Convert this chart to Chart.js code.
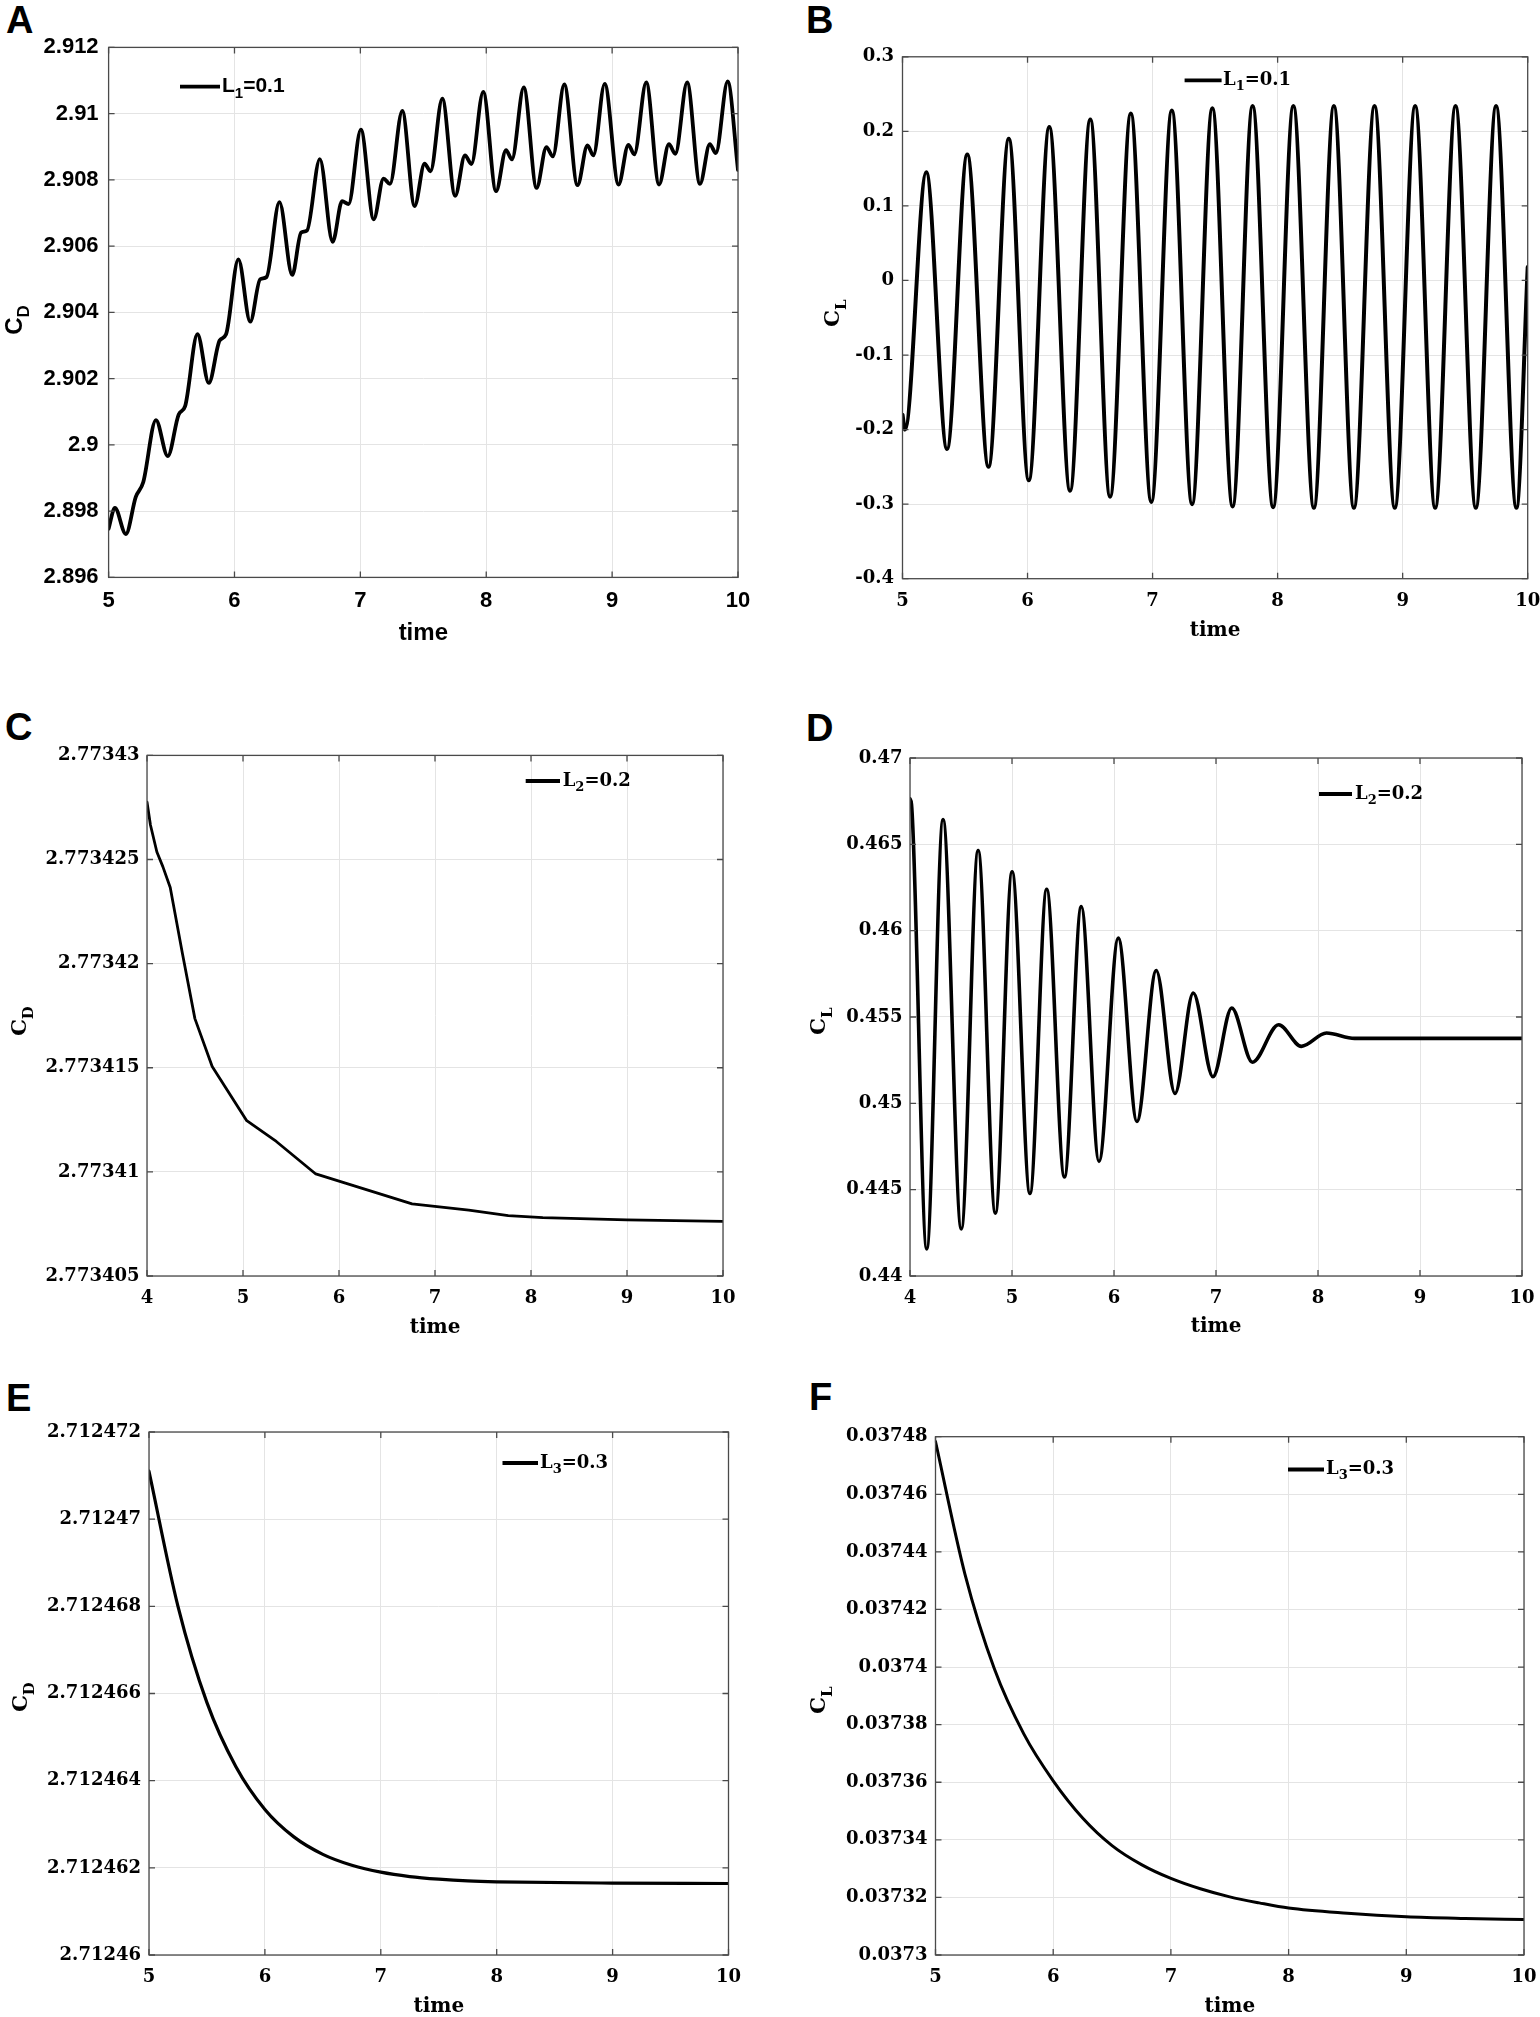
<!DOCTYPE html>
<html>
<head>
<meta charset="utf-8">
<script src="https://cdn.jsdelivr.net/npm/chart.js@4.4.1/dist/chart.umd.min.js"></script>
<style>
    body { margin: 0; background: #fff; }
    #page { position: relative; width: 1540px; height: 2017px; background: #fff; overflow: hidden; }
    #page canvas { position: absolute; }
    .tag { position: absolute; font: bold 38px 'Liberation Sans', Arial, sans-serif; line-height: 1; color: #000; }
</style>
</head>
<body>
<div id="page">
    <div class="tag" style="left:6px;top:1px">A</div>
    <div class="tag" style="left:806px;top:1px">B</div>
    <div class="tag" style="left:5px;top:708px">C</div>
    <div class="tag" style="left:806px;top:709px">D</div>
    <div class="tag" style="left:6px;top:1379px">E</div>
    <div class="tag" style="left:809px;top:1378px">F</div>
</div>
<script>
// ---- values ----
const xTicks5 = [5, 6, 7, 8, 9, 10];
const xTickLabels5 = ['5', '6', '7', '8', '9', '10'];
const xTicks4 = [4, 5, 6, 7, 8, 9, 10];
const xTickLabels4 = ['4', '5', '6', '7', '8', '9', '10'];

// A: drag coefficient, L1 = 0.1
const timeA = [5, 5.05, 5.137, 5.216, 5.275, 5.376, 5.47, 5.557, 5.608, 5.706, 5.796, 5.882, 5.933,
    6.031, 6.125, 6.204, 6.255, 6.357, 6.459, 6.529, 6.576, 6.678, 6.78, 6.855, 6.906,
    7.004, 7.106, 7.184, 7.235, 7.333, 7.431, 7.51, 7.557, 7.651, 7.753, 7.831, 7.882,
    7.976, 8.078, 8.157, 8.204, 8.298, 8.4, 8.478, 8.529, 8.62, 8.725, 8.804, 8.851,
    8.941, 9.051, 9.129, 9.176, 9.271, 9.373, 9.451, 9.502, 9.596, 9.698, 9.776, 9.824, 9.918, 10];
const cdA = [2.89747, 2.8981, 2.89731, 2.89843, 2.89887, 2.90075, 2.89966, 2.90092, 2.90117, 2.90334, 2.90187, 2.90315, 2.90334,
    2.9056, 2.90372, 2.905, 2.90507, 2.90733, 2.90513, 2.90641, 2.90647, 2.90863, 2.90613, 2.90736, 2.90727,
    2.90952, 2.90681, 2.90804, 2.90788, 2.91008, 2.90721, 2.90849, 2.90826, 2.91045, 2.90752, 2.90874, 2.90848,
    2.91066, 2.90766, 2.9089, 2.90862, 2.91079, 2.90776, 2.90899, 2.90871, 2.91088, 2.90784, 2.90904, 2.90874,
    2.9109, 2.90786, 2.90906, 2.90877, 2.91094, 2.90786, 2.90908, 2.90879, 2.91094, 2.90788, 2.90908, 2.90881, 2.91097, 2.9083];
const yTicksA = [2.896, 2.898, 2.9, 2.902, 2.904, 2.906, 2.908, 2.91, 2.912];
const yTickLabelsA = ['2.896', '2.898', '2.9', '2.902', '2.904', '2.906', '2.908', '2.91', '2.912'];

// B: lift coefficient, L1 = 0.1
const timeB = [5, 5.02, 5.19, 5.356, 5.518, 5.688, 5.85, 6.01, 6.174, 6.34, 6.502, 6.66, 6.826, 6.99,
    7.154, 7.316, 7.478, 7.64, 7.8, 7.964, 8.126, 8.29, 8.45, 8.61, 8.775, 8.937,
    9.1, 9.26, 9.423, 9.585, 9.747, 9.91, 10];
const clB = [-0.18, -0.2, 0.145, -0.226, 0.169, -0.25, 0.19, -0.268, 0.206, -0.282, 0.216, -0.29, 0.224, -0.297,
    0.228, -0.3, 0.231, -0.303, 0.234, -0.304, 0.234, -0.305, 0.234, -0.305, 0.234, -0.305,
    0.234, -0.305, 0.234, -0.305, 0.234, -0.305, 0.018];
const yTicksB = [-0.4, -0.3, -0.2, -0.1, 0, 0.1, 0.2, 0.3];
const yTickLabelsB = ['-0.4', '-0.3', '-0.2', '-0.1', '0', '0.1', '0.2', '0.3'];

// C: drag coefficient, L2 = 0.2
const timeC = [4, 4.036, 4.103, 4.165, 4.242, 4.37, 4.499, 4.679, 5.039, 5.347, 5.758, 6.067, 6.761, 7.352, 7.763, 8.123, 8.997, 10];
const cdC = [2.77342776, 2.77342666, 2.77342536, 2.77342466, 2.77342366, 2.77342046, 2.77341736, 2.77341506, 2.77341246,
    2.77341146, 2.7734099, 2.77340946, 2.77340846, 2.77340816, 2.7734079, 2.7734078, 2.7734077, 2.77340762];
const yTicksC = [2.773405, 2.77341, 2.773415, 2.77342, 2.773425, 2.77343];
const yTickLabelsC = ['2.773405', '2.77341', '2.773415', '2.77342', '2.773425', '2.77343'];

// D: lift coefficient, L2 = 0.2
const timeD = [4, 4.015, 4.164, 4.324, 4.503, 4.668, 4.837, 5.001, 5.176, 5.34, 5.514, 5.679, 5.853,
    6.042, 6.225, 6.414, 6.598, 6.777, 6.97, 7.154, 7.357, 7.614, 7.837, 8.083, 8.359, 9, 10];
const clD = [0.46763, 0.4673, 0.44157, 0.46643, 0.44273, 0.46464, 0.44364, 0.46341, 0.44478, 0.4624, 0.44574, 0.46139, 0.44664,
    0.45957, 0.44895, 0.45769, 0.45057, 0.45639, 0.45154, 0.45552, 0.45238, 0.45455, 0.4533, 0.45407, 0.45376, 0.45376, 0.45376];
const yTicksD = [0.44, 0.445, 0.45, 0.455, 0.46, 0.465, 0.47];
const yTickLabelsD = ['0.44', '0.445', '0.45', '0.455', '0.46', '0.465', '0.47'];

// E: drag coefficient, L3 = 0.3
const timeE = [5, 5.25, 5.5, 5.75, 6.0, 6.25, 6.5, 6.75, 7.0, 7.25, 7.5, 7.75, 8.0, 9.0, 10];
const cdE = [2.7124711, 2.712468, 2.71246579, 2.71246432, 2.71246334, 2.71246271, 2.71246231, 2.71246206,
    2.7124619, 2.7124618, 2.71246174, 2.7124617, 2.71246168, 2.71246165, 2.71246164];
const yTicksE = [2.71246, 2.712462, 2.712464, 2.712466, 2.712468, 2.71247, 2.712472];
const yTickLabelsE = ['2.71246', '2.712462', '2.712464', '2.712466', '2.712468', '2.71247', '2.712472'];

// F: lift coefficient, L3 = 0.3
const timeF = [5, 5.25, 5.5, 5.75, 6.0, 6.25, 6.5, 6.75, 7.0, 7.25, 7.5, 7.75, 8.0, 8.5, 9.0, 9.5, 10];
const clF = [0.0374783, 0.0374323, 0.0373994, 0.0373768, 0.0373605, 0.0373476, 0.037338, 0.0373314, 0.0373266,
    0.037323, 0.0373202, 0.0373181, 0.0373163, 0.0373145, 0.0373133, 0.0373127, 0.0373123];
const yTicksF = [0.0373, 0.03732, 0.03734, 0.03736, 0.03738, 0.0374, 0.03742, 0.03744, 0.03746, 0.03748];
const yTickLabelsF = ['0.0373', '0.03732', '0.03734', '0.03736', '0.03738', '0.0374', '0.03742', '0.03744', '0.03746', '0.03748'];

// legend text: base, subscript, rest
const legendL1 = ['L', '1', '=0.1'];
const legendL2 = ['L', '2', '=0.2'];
const legendL3 = ['L', '3', '=0.3'];
const xTitle = 'time';
const yTitleCD = ['C', 'D'];
const yTitleCL = ['C', 'L'];

// ---- styling ----
const SANS = "'Liberation Sans', Arial, sans-serif";
const SERIF = "'DejaVu Serif', serif";
const GRID = '#e4e4e4';
const AXIS = '#4a4a4a';
const TICK_LEN = 6;

const serifFonts = { family: SERIF, tick: 18, title: 20, yTitle: 21, ySub: 15, legend: 18, legendSub: 13 };
const sansFonts = { family: SANS, tick: 22, title: 24, yTitle: 24, ySub: 17, legend: 21, legendSub: 15 };

const panels = [
    { box: { x: 0, y: 0, w: 770, h: 690 }, plot: { left: 108.6, top: 47.4, right: 738, bottom: 577.4 },
      fonts: sansFonts, xPad: 10, yPad: 10, lineWidth: 3.8, smooth: true,
      x: timeA, y: cdA, xTicks: xTicks5, xLabels: xTickLabels5, yTicks: yTicksA, yLabels: yTickLabelsA,
      xTitleY: 633, yTitle: yTitleCD, yTitlePos: { x: 17, y: 320 },
      legend: legendL1, legendPos: { x1: 180, x2: 220, y: 86.7, tx: 222 } },
    { box: { x: 770, y: 0, w: 770, h: 690 }, plot: { left: 902.5, top: 56.8, right: 1527.7, bottom: 578.7 },
      fonts: serifFonts, xPad: 12, yPad: 8.5, lineWidth: 4, smooth: true,
      x: timeB, y: clB, xTicks: xTicks5, xLabels: xTickLabels5, yTicks: yTicksB, yLabels: yTickLabelsB,
      xTitleY: 631, yTitle: yTitleCL, yTitlePos: { x: 835, y: 313 },
      legend: legendL1, legendPos: { x1: 1184.6, x2: 1221.6, y: 80.4, tx: 1223 } },
    { box: { x: 0, y: 690, w: 770, h: 670 }, plot: { left: 147, top: 755.4, right: 723, bottom: 1276 },
      fonts: serifFonts, xPad: 12, yPad: 7.5, lineWidth: 2.8, smooth: false,
      x: timeC, y: cdC, xTicks: xTicks4, xLabels: xTickLabels4, yTicks: yTicksC, yLabels: yTickLabelsC,
      xTitleY: 1328, yTitle: yTitleCD, yTitlePos: { x: 22, y: 1021 },
      legend: legendL2, legendPos: { x1: 525.7, x2: 560, y: 781, tx: 562.7 } },
    { box: { x: 770, y: 690, w: 770, h: 670 }, plot: { left: 910, top: 758, right: 1522, bottom: 1276 },
      fonts: serifFonts, xPad: 12, yPad: 7.5, lineWidth: 3.6, smooth: true,
      x: timeD, y: clD, xTicks: xTicks4, xLabels: xTickLabels4, yTicks: yTicksD, yLabels: yTickLabelsD,
      xTitleY: 1327, yTitle: yTitleCL, yTitlePos: { x: 821, y: 1021 },
      legend: legendL2, legendPos: { x1: 1319, x2: 1352, y: 794, tx: 1355 } },
    { box: { x: 0, y: 1360, w: 770, h: 657 }, plot: { left: 149, top: 1432, right: 728.5, bottom: 1955 },
      fonts: serifFonts, xPad: 12, yPad: 8, lineWidth: 3.2, smooth: true,
      x: timeE, y: cdE, xTicks: xTicks5, xLabels: xTickLabels5, yTicks: yTicksE, yLabels: yTickLabelsE,
      xTitleY: 2006.7, yTitle: yTitleCD, yTitlePos: { x: 23, y: 1697 },
      legend: legendL3, legendPos: { x1: 502.5, x2: 538, y: 1463, tx: 540 } },
    { box: { x: 770, y: 1360, w: 770, h: 657 }, plot: { left: 935.5, top: 1436.7, right: 1524, bottom: 1955 },
      fonts: serifFonts, xPad: 12, yPad: 8, lineWidth: 3, smooth: true,
      x: timeF, y: clF, xTicks: xTicks5, xLabels: xTickLabels5, yTicks: yTicksF, yLabels: yTickLabelsF,
      xTitleY: 2007, yTitle: yTitleCL, yTitlePos: { x: 821, y: 1700 },
      legend: legendL3, legendPos: { x1: 1288, x2: 1324, y: 1469.5, tx: 1326 } }
];

// Draws the MATLAB-like box, inward ticks, axis titles and the in-plot legend
function framePlugin(p) {
    return {
        id: 'frame',
        afterDraw(chart) {
            const { ctx, chartArea: a } = chart;
            const xs = chart.scales.x, ys = chart.scales.y;
            const f = p.fonts;
            const ox = p.box.x, oy = p.box.y;
            ctx.save();

            // inward tick marks and box
            ctx.strokeStyle = AXIS;
            ctx.lineWidth = 1.3;
            ctx.beginPath();
            p.xTicks.forEach(v => {
                const px = xs.getPixelForValue(v);
                ctx.moveTo(px, a.bottom); ctx.lineTo(px, a.bottom - TICK_LEN);
                ctx.moveTo(px, a.top); ctx.lineTo(px, a.top + TICK_LEN);
            });
            p.yTicks.forEach(v => {
                const py = ys.getPixelForValue(v);
                ctx.moveTo(a.left, py); ctx.lineTo(a.left + TICK_LEN, py);
                ctx.moveTo(a.right, py); ctx.lineTo(a.right - TICK_LEN, py);
            });
            ctx.stroke();
            ctx.strokeRect(a.left, a.top, a.right - a.left, a.bottom - a.top);

            ctx.fillStyle = '#000';

            // x title
            ctx.font = 'bold ' + f.title + 'px ' + f.family;
            ctx.textAlign = 'center';
            ctx.textBaseline = 'middle';
            ctx.fillText(xTitle, (a.left + a.right) / 2, p.xTitleY - oy);

            // y title, rotated, with subscript
            ctx.save();
            ctx.translate(p.yTitlePos.x - ox, p.yTitlePos.y - oy);
            ctx.rotate(-Math.PI / 2);
            ctx.textAlign = 'left';
            ctx.textBaseline = 'alphabetic';
            const mainFont = 'bold ' + f.yTitle + 'px ' + f.family;
            const subFont = 'bold ' + f.ySub + 'px ' + f.family;
            ctx.font = mainFont;
            const wMain = ctx.measureText(p.yTitle[0]).width;
            ctx.font = subFont;
            const wSub = ctx.measureText(p.yTitle[1]).width;
            const cap = f.yTitle * 0.72;
            const drop = f.yTitle * 0.3;
            const base = (cap - drop) / 2;
            const start = -(wMain + wSub) / 2;
            ctx.font = mainFont;
            ctx.fillText(p.yTitle[0], start, base);
            ctx.font = subFont;
            ctx.fillText(p.yTitle[1], start + wMain, base + drop);
            ctx.restore();

            // legend
            const lp = p.legendPos;
            ctx.strokeStyle = '#000';
            ctx.lineWidth = 3.8;
            ctx.beginPath();
            ctx.moveTo(lp.x1 - ox, lp.y - oy);
            ctx.lineTo(lp.x2 - ox, lp.y - oy);
            ctx.stroke();
            ctx.textAlign = 'left';
            ctx.textBaseline = 'alphabetic';
            const lb = lp.y - oy + f.legend * 0.25;
            let tx = lp.tx - ox;
            ctx.font = 'bold ' + f.legend + 'px ' + f.family;
            ctx.fillText(p.legend[0], tx, lb);
            tx += ctx.measureText(p.legend[0]).width;
            ctx.font = 'bold ' + f.legendSub + 'px ' + f.family;
            ctx.fillText(p.legend[1], tx, lb + f.legend * 0.3);
            tx += ctx.measureText(p.legend[1]).width;
            ctx.font = 'bold ' + f.legend + 'px ' + f.family;
            ctx.fillText(p.legend[2], tx, lb);

            ctx.restore();
        }
    };
}

function makePanel(p) {
    const canvas = document.createElement('canvas');
    canvas.width = p.box.w;
    canvas.height = p.box.h;
    canvas.style.left = p.box.x + 'px';
    canvas.style.top = p.box.y + 'px';
    canvas.style.width = p.box.w + 'px';
    canvas.style.height = p.box.h + 'px';
    document.getElementById('page').appendChild(canvas);

    const tickFont = { family: p.fonts.family, size: p.fonts.tick, weight: 'bold' };

    new Chart(canvas, {
        type: 'line',
        data: {
            datasets: [{
                label: p.legend.join(''),
                data: p.x.map((t, i) => ({ x: t, y: p.y[i] })),
                borderColor: '#000',
                borderWidth: p.lineWidth,
                borderJoinStyle: 'round',
                borderCapStyle: 'round',
                pointRadius: 0,
                fill: false,
                tension: p.smooth ? 0.4 : 0,
                cubicInterpolationMode: p.smooth ? 'monotone' : 'default'
            }]
        },
        options: {
            responsive: false,
            animation: false,
            events: [],
            layout: {
                padding: {
                    top: p.plot.top - p.box.y,
                    right: p.box.x + p.box.w - p.plot.right,
                    bottom: 0,
                    left: 0
                }
            },
            plugins: {
                legend: { display: false },
                tooltip: { enabled: false }
            },
            scales: {
                x: {
                    type: 'linear',
                    min: p.xTicks[0],
                    max: p.xTicks[p.xTicks.length - 1],
                    afterBuildTicks: scale => { scale.ticks = p.xTicks.map(v => ({ value: v })); },
                    afterFit: scale => {
                        scale.height = p.box.y + p.box.h - p.plot.bottom;
                        scale.paddingLeft = 0;
                        scale.paddingRight = 0;
                    },
                    ticks: {
                        autoSkip: false, maxRotation: 0, minRotation: 0,
                        padding: p.xPad, color: '#000', font: tickFont,
                        callback: (v, i) => p.xLabels[i]
                    },
                    grid: { color: GRID, lineWidth: 1, drawTicks: false },
                    border: { display: false }
                },
                y: {
                    type: 'linear',
                    min: p.yTicks[0],
                    max: p.yTicks[p.yTicks.length - 1],
                    afterBuildTicks: scale => { scale.ticks = p.yTicks.map(v => ({ value: v })); },
                    afterFit: scale => {
                        scale.width = p.plot.left - p.box.x;
                        scale.paddingTop = 0;
                        scale.paddingBottom = 0;
                    },
                    ticks: {
                        autoSkip: false,
                        padding: p.yPad, color: '#000', font: tickFont,
                        callback: (v, i) => p.yLabels[i]
                    },
                    grid: { color: GRID, lineWidth: 1, drawTicks: false },
                    border: { display: false }
                }
            }
        },
        plugins: [framePlugin(p)]
    });
}

panels.forEach(makePanel);
</script>
</body>
</html>
